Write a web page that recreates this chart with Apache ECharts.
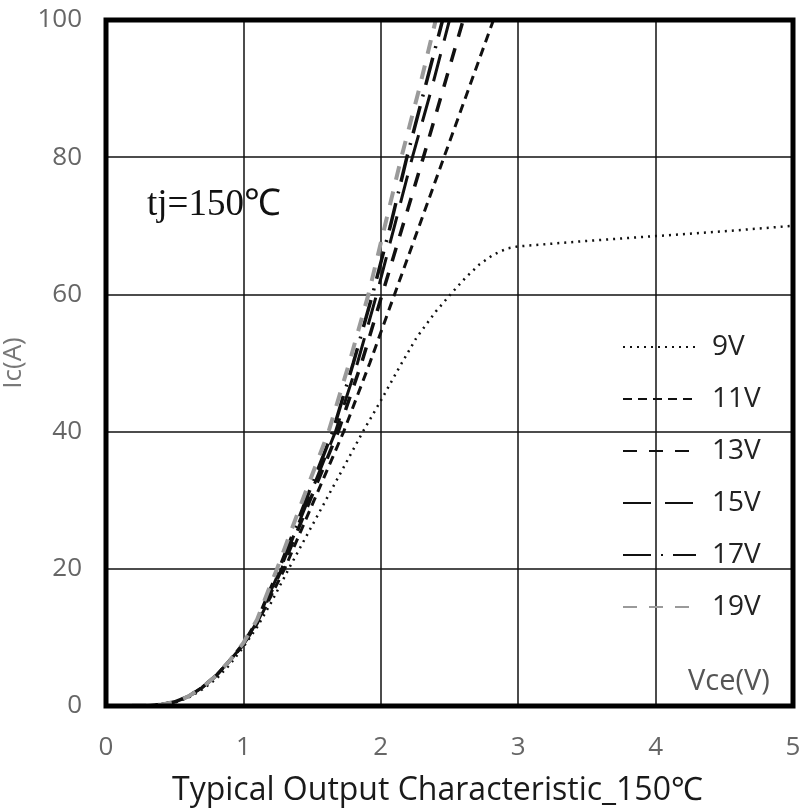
<!DOCTYPE html>
<html>
<head>
<meta charset="utf-8">
<script src="https://cdn.jsdelivr.net/npm/echarts@6/dist/echarts.min.js"></script>
<style>
html,body{margin:0;padding:0;background:#fff;}
#chart{width:802px;height:809px;}
</style>
</head>
<body>
<div id="chart"></div>
<script>
// Series names (gate voltage)
var seriesNames = ['9V', '11V', '13V', '15V', '17V', '19V'];
var xTicks = [0, 1, 2, 3, 4, 5];
var yTicks = [0, 20, 40, 60, 80, 100];

// Vce (V) / Ic (A) per curve
var vce9  = [0, 0.3, 0.4, 0.5, 0.6, 0.7, 0.8, 0.9, 1.0, 1.1, 1.2, 1.33, 1.5, 1.7, 1.87, 2.0, 2.13, 2.26, 2.4, 2.52, 2.62, 2.72, 2.82, 2.92, 3.0, 3.5, 4.0, 4.5, 5.0];
var ic9   = [0, 0.05, 0.2, 0.5, 1.2, 2.4, 3.9, 6.0, 8.6, 11.5, 15.0, 20, 26.3, 33.7, 40, 44.5, 49.2, 53.7, 57.5, 60.3, 62.5, 64.4, 65.8, 66.7, 67.0, 67.8, 68.5, 69.2, 70.0];

var vce11 = [0, 0.3, 0.4, 0.5, 0.6, 0.7, 0.8, 0.9, 1.0, 1.1, 1.2, 1.30, 1.515, 1.73, 1.92, 2.10, 2.28, 2.46, 2.64, 2.82];
var ic11  = [0, 0.05, 0.2, 0.6, 1.4, 2.7, 4.4, 6.6, 8.9, 12.0, 16.0, 20, 30, 40, 50, 60, 70, 80, 90, 100];

var vce13 = [0, 0.3, 0.4, 0.5, 0.6, 0.7, 0.8, 0.9, 1.0, 1.1, 1.2, 1.28, 1.485, 1.69, 1.86, 2.01, 2.16, 2.31, 2.455, 2.60];
var ic13  = [0, 0.05, 0.2, 0.6, 1.4, 2.7, 4.4, 6.6, 9.0, 12.2, 16.5, 20, 30, 40, 50, 60, 70, 80, 90, 100];

var vce15 = [0, 0.3, 0.4, 0.5, 0.6, 0.7, 0.8, 0.9, 1.0, 1.1, 1.2, 1.27, 1.47, 1.67, 1.83, 1.97, 2.10, 2.23, 2.37, 2.50];
var ic15  = [0, 0.05, 0.2, 0.6, 1.4, 2.7, 4.4, 6.6, 9.0, 12.3, 16.8, 20, 30, 40, 50, 60, 70, 80, 90, 100];

var vce17 = [0, 0.3, 0.4, 0.5, 0.6, 0.7, 0.8, 0.9, 1.0, 1.1, 1.2, 1.26, 1.455, 1.65, 1.80, 1.94, 2.07, 2.19, 2.32, 2.45];
var ic17  = [0, 0.05, 0.2, 0.6, 1.4, 2.7, 4.4, 6.6, 9.1, 12.4, 17.2, 20, 30, 40, 50, 60, 70, 80, 90, 100];

var vce19 = [0, 0.3, 0.4, 0.5, 0.6, 0.7, 0.8, 0.9, 1.0, 1.1, 1.2, 1.245, 1.43, 1.62, 1.77, 1.91, 2.03, 2.15, 2.28, 2.40];
var ic19  = [0, 0.05, 0.2, 0.6, 1.4, 2.7, 4.4, 6.6, 9.2, 12.6, 17.8, 20, 30, 40, 50, 60, 70, 80, 90, 100];

function pairs(xs, ys) { return xs.map(function (x, i) { return [x, ys[i]]; }); }

var curves = [
  { v: vce9,  i: ic9,  color: '#111', width: 2.5, type: [2, 5] },
  { v: vce11, i: ic11, color: '#111', width: 3,   type: [9, 6] },
  { v: vce13, i: ic13, color: '#111', width: 3.5, type: [14, 12] },
  { v: vce15, i: ic15, color: '#111', width: 3,   type: [28, 14] },
  { v: vce17, i: ic17, color: '#111', width: 3.5, type: [28, 10, 2, 10] },
  { v: vce19, i: ic19, color: '#9a9a9a', width: 4, type: [14, 12] }
];

var series = curves.map(function (c, k) {
  return {
    name: seriesNames[k],
    type: 'line',
    data: pairs(c.v, c.i),
    symbol: 'none',
    showSymbol: false,
    smooth: false,
    z: 3,
    lineStyle: { color: c.color, width: c.width, type: c.type },
    itemStyle: { color: c.color }
  };
});

var chart = echarts.init(document.getElementById('chart'), null, { renderer: 'canvas' });
chart.setOption({
  animation: false,
  backgroundColor: '#fff',
  grid: {
    left: 106, right: 9, top: 20, bottom: 103,
    outerBoundsMode: 'none', containLabel: false,
    show: true, borderColor: '#000', borderWidth: 5, backgroundColor: 'transparent', z: 5
  },
  legend: {
    orient: 'vertical',
    left: 617, top: 328,
    itemWidth: 73, itemHeight: 22, itemGap: 24,
    data: seriesNames,
    itemStyle: { color: 'rgba(0,0,0,0)', borderWidth: 0, opacity: 0 },
    textStyle: { fontSize: 28, lineHeight: 22, color: '#222', fontFamily: 'Open Sans', padding: [0, 0, 0, 11] }
  },
  xAxis: {
    type: 'value', min: xTicks[0], max: xTicks[xTicks.length - 1], interval: 1,
    name: 'Typical Output Characteristic_150℃',
    nameLocation: 'middle', nameGap: 69,
    nameTextStyle: { fontSize: 32, color: '#1a1a1a', fontFamily: 'Open Sans', padding: [0, 24, 0, 0] },
    axisLine: { show: false }, axisTick: { show: false },
    axisLabel: { fontSize: 26, color: '#666', fontFamily: 'Open Sans', margin: 29 },
    splitLine: { show: true, lineStyle: { color: '#111', width: 1.5 } }
  },
  yAxis: {
    type: 'value', min: yTicks[0], max: yTicks[yTicks.length - 1], interval: 20,
    name: 'Ic(A)',
    nameLocation: 'middle', nameGap: 68, nameRotate: 90,
    nameTextStyle: { fontSize: 26, color: '#777', fontFamily: 'Open Sans' },
    axisLine: { show: false }, axisTick: { show: false },
    axisLabel: { fontSize: 26, color: '#666', fontFamily: 'Open Sans', margin: 24 },
    splitLine: { show: true, lineStyle: { color: '#111', width: 1.5 } }
  },
  graphic: [
    { type: 'text', left: 147, top: 187, z: 10,
      style: { text: 'tj=150℃', fontSize: 37, fontFamily: 'Liberation Serif', fill: '#111' } },
    { type: 'text', left: 688, top: 667, z: 10,
      style: { text: 'Vce(V)', fontSize: 29, fontFamily: 'Open Sans', fill: '#555' } }
  ],
  series: series
});
</script>
</body>
</html>
